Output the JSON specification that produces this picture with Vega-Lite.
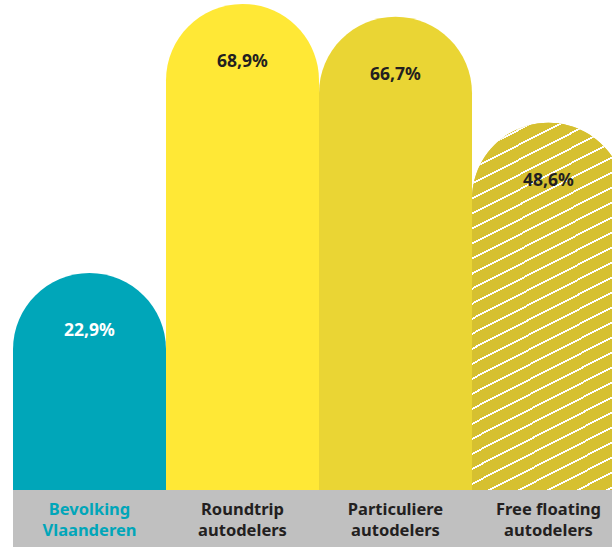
{
  "$schema": "https://vega.github.io/schema/vega-lite/v6.json",
  "width": 599,
  "height": 547,
  "autosize": "none",
  "padding": {"left": 13, "top": 0, "right": 0, "bottom": 0},
  "background": "white",
  "config": {
    "view": {"stroke": null},
    "locale": {"number": {"decimal": ",", "thousands": ".", "grouping": [3], "currency": ["€", ""]}},
    "text": {"font": "Noto Sans", "fontWeight": "bold"}
  },
  "data": {
    "values": [
      {"groep": "Bevolking\nVlaanderen", "aandeel": 0.229},
      {"groep": "Roundtrip\nautodelers", "aandeel": 0.689},
      {"groep": "Particuliere\nautodelers", "aandeel": 0.667},
      {"groep": "Free floating\nautodelers", "aandeel": 0.486}
    ]
  },
  "encoding": {
    "x": {
      "field": "groep",
      "type": "nominal",
      "sort": null,
      "axis": null,
      "scale": {"range": [0, 612], "paddingInner": 0, "paddingOuter": 0}
    }
  },
  "layer": [
    {
      "mark": {"type": "bar", "clip": true, "cornerRadiusTopLeft": 77, "cornerRadiusTopRight": 77},
      "encoding": {
        "y": {
          "field": "aandeel",
          "type": "quantitative",
          "axis": null,
          "scale": {"domain": [-0.2393, 0.6957], "nice": false, "zero": false}
        },
        "y2": {"datum": -0.1419},
        "color": {
          "field": "groep",
          "type": "nominal",
          "legend": null,
          "scale": {
            "domain": ["Bevolking\nVlaanderen", "Roundtrip\nautodelers", "Particuliere\nautodelers", "Free floating\nautodelers"],
            "range": ["#00a6b9", "#ffe836", "#ead534", "#d6c030"]
          }
        }
      }
    },
    {
      "transform": [{"filter": "datum.groep === 'Free floating\\nautodelers'"}],
      "mark": {
        "type": "bar",
        "clip": true,
        "cornerRadiusTopLeft": 77,
        "cornerRadiusTopRight": 77,
        "fill": {
          "gradient": "linear",
          "x1": 0, "y1": 0, "x2": 0.2463, "y2": 1.16,
          "stops": [
            {"offset": 0, "color": "#d6c030"},
            {"offset": 0.0337, "color": "#d6c030"}, {"offset": 0.0337, "color": "#ffffff"}, {"offset": 0.0382, "color": "#ffffff"}, {"offset": 0.0382, "color": "#d6c030"},
            {"offset": 0.0674, "color": "#d6c030"}, {"offset": 0.0674, "color": "#ffffff"}, {"offset": 0.0719, "color": "#ffffff"}, {"offset": 0.0719, "color": "#d6c030"},
            {"offset": 0.1011, "color": "#d6c030"}, {"offset": 0.1011, "color": "#ffffff"}, {"offset": 0.1056, "color": "#ffffff"}, {"offset": 0.1056, "color": "#d6c030"},
            {"offset": 0.1348, "color": "#d6c030"}, {"offset": 0.1348, "color": "#ffffff"}, {"offset": 0.1393, "color": "#ffffff"}, {"offset": 0.1393, "color": "#d6c030"},
            {"offset": 0.1685, "color": "#d6c030"}, {"offset": 0.1685, "color": "#ffffff"}, {"offset": 0.1730, "color": "#ffffff"}, {"offset": 0.1730, "color": "#d6c030"},
            {"offset": 0.2022, "color": "#d6c030"}, {"offset": 0.2022, "color": "#ffffff"}, {"offset": 0.2067, "color": "#ffffff"}, {"offset": 0.2067, "color": "#d6c030"},
            {"offset": 0.2359, "color": "#d6c030"}, {"offset": 0.2359, "color": "#ffffff"}, {"offset": 0.2404, "color": "#ffffff"}, {"offset": 0.2404, "color": "#d6c030"},
            {"offset": 0.2696, "color": "#d6c030"}, {"offset": 0.2696, "color": "#ffffff"}, {"offset": 0.2741, "color": "#ffffff"}, {"offset": 0.2741, "color": "#d6c030"},
            {"offset": 0.3033, "color": "#d6c030"}, {"offset": 0.3033, "color": "#ffffff"}, {"offset": 0.3078, "color": "#ffffff"}, {"offset": 0.3078, "color": "#d6c030"},
            {"offset": 0.3370, "color": "#d6c030"}, {"offset": 0.3370, "color": "#ffffff"}, {"offset": 0.3415, "color": "#ffffff"}, {"offset": 0.3415, "color": "#d6c030"},
            {"offset": 0.3707, "color": "#d6c030"}, {"offset": 0.3707, "color": "#ffffff"}, {"offset": 0.3752, "color": "#ffffff"}, {"offset": 0.3752, "color": "#d6c030"},
            {"offset": 0.4044, "color": "#d6c030"}, {"offset": 0.4044, "color": "#ffffff"}, {"offset": 0.4089, "color": "#ffffff"}, {"offset": 0.4089, "color": "#d6c030"},
            {"offset": 0.4381, "color": "#d6c030"}, {"offset": 0.4381, "color": "#ffffff"}, {"offset": 0.4426, "color": "#ffffff"}, {"offset": 0.4426, "color": "#d6c030"},
            {"offset": 0.4718, "color": "#d6c030"}, {"offset": 0.4718, "color": "#ffffff"}, {"offset": 0.4763, "color": "#ffffff"}, {"offset": 0.4763, "color": "#d6c030"},
            {"offset": 0.5055, "color": "#d6c030"}, {"offset": 0.5055, "color": "#ffffff"}, {"offset": 0.5100, "color": "#ffffff"}, {"offset": 0.5100, "color": "#d6c030"},
            {"offset": 0.5392, "color": "#d6c030"}, {"offset": 0.5392, "color": "#ffffff"}, {"offset": 0.5437, "color": "#ffffff"}, {"offset": 0.5437, "color": "#d6c030"},
            {"offset": 0.5729, "color": "#d6c030"}, {"offset": 0.5729, "color": "#ffffff"}, {"offset": 0.5774, "color": "#ffffff"}, {"offset": 0.5774, "color": "#d6c030"},
            {"offset": 0.6066, "color": "#d6c030"}, {"offset": 0.6066, "color": "#ffffff"}, {"offset": 0.6111, "color": "#ffffff"}, {"offset": 0.6111, "color": "#d6c030"},
            {"offset": 0.6403, "color": "#d6c030"}, {"offset": 0.6403, "color": "#ffffff"}, {"offset": 0.6448, "color": "#ffffff"}, {"offset": 0.6448, "color": "#d6c030"},
            {"offset": 0.6740, "color": "#d6c030"}, {"offset": 0.6740, "color": "#ffffff"}, {"offset": 0.6785, "color": "#ffffff"}, {"offset": 0.6785, "color": "#d6c030"},
            {"offset": 0.7077, "color": "#d6c030"}, {"offset": 0.7077, "color": "#ffffff"}, {"offset": 0.7122, "color": "#ffffff"}, {"offset": 0.7122, "color": "#d6c030"},
            {"offset": 0.7414, "color": "#d6c030"}, {"offset": 0.7414, "color": "#ffffff"}, {"offset": 0.7459, "color": "#ffffff"}, {"offset": 0.7459, "color": "#d6c030"},
            {"offset": 0.7751, "color": "#d6c030"}, {"offset": 0.7751, "color": "#ffffff"}, {"offset": 0.7796, "color": "#ffffff"}, {"offset": 0.7796, "color": "#d6c030"},
            {"offset": 0.8088, "color": "#d6c030"}, {"offset": 0.8088, "color": "#ffffff"}, {"offset": 0.8133, "color": "#ffffff"}, {"offset": 0.8133, "color": "#d6c030"},
            {"offset": 0.8425, "color": "#d6c030"}, {"offset": 0.8425, "color": "#ffffff"}, {"offset": 0.8470, "color": "#ffffff"}, {"offset": 0.8470, "color": "#d6c030"},
            {"offset": 0.8762, "color": "#d6c030"}, {"offset": 0.8762, "color": "#ffffff"}, {"offset": 0.8807, "color": "#ffffff"}, {"offset": 0.8807, "color": "#d6c030"},
            {"offset": 0.9099, "color": "#d6c030"}, {"offset": 0.9099, "color": "#ffffff"}, {"offset": 0.9144, "color": "#ffffff"}, {"offset": 0.9144, "color": "#d6c030"},
            {"offset": 0.9436, "color": "#d6c030"}, {"offset": 0.9436, "color": "#ffffff"}, {"offset": 0.9481, "color": "#ffffff"}, {"offset": 0.9481, "color": "#d6c030"},
            {"offset": 0.9773, "color": "#d6c030"}, {"offset": 0.9773, "color": "#ffffff"}, {"offset": 0.9818, "color": "#ffffff"}, {"offset": 0.9818, "color": "#d6c030"},
            {"offset": 1, "color": "#d6c030"}
          ]
        }
      },
      "encoding": {
        "y": {"field": "aandeel", "type": "quantitative"},
        "y2": {"datum": -0.1419}
      }
    },
    {
      "mark": {"type": "bar", "clip": true, "color": "#c0c0c0"},
      "encoding": {
        "y": {"datum": -0.1419},
        "y2": {"datum": -0.2393}
      }
    },
    {
      "mark": {"type": "text", "fontSize": 16.5, "lineBreak": "\n", "lineHeight": 21, "baseline": "middle", "align": "center"},
      "encoding": {
        "y": {"datum": -0.1761},
        "text": {"field": "groep"},
        "color": {
          "condition": {"test": "datum.groep === 'Bevolking\\nVlaanderen'", "value": "#00a6b9"},
          "value": "#231f20"
        }
      }
    },
    {
      "mark": {"type": "text", "fontSize": 17.5, "baseline": "middle", "align": "center", "dy": 58},
      "encoding": {
        "y": {"field": "aandeel", "type": "quantitative"},
        "text": {"field": "aandeel", "type": "quantitative", "format": ".1%"},
        "color": {
          "condition": {"test": "datum.groep === 'Bevolking\\nVlaanderen'", "value": "#ffffff"},
          "value": "#231f20"
        }
      }
    }
  ]
}
